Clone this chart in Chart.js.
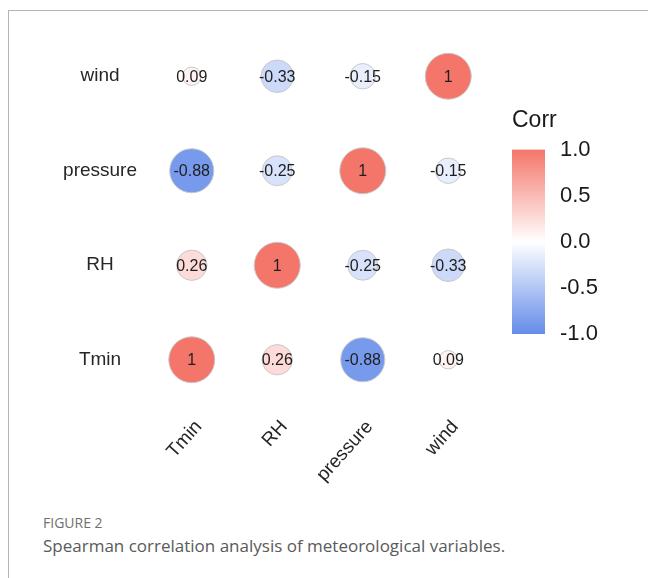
<!DOCTYPE html>
<html>
<head>
<meta charset="utf-8">
<script src="https://cdn.jsdelivr.net/npm/chart.js@4.4.1/dist/chart.umd.min.js"></script>
<style>
  html, body { margin: 0; padding: 0; background: #fff; }
  #page { position: relative; width: 648px; height: 578px; overflow: hidden; }
  #frame { position: absolute; left: 8px; top: 10px; width: 660px; height: 600px; border: 1px solid #b4b4b4; }
  #mainWrap { position: absolute; left: 0; top: 0; width: 500px; height: 500px; }
  #barWrap { position: absolute; left: 500px; top: 95px; width: 130px; height: 260px; }
  .cap1 { position: absolute; left: 43px; top: 513px; font: 14px "Open Sans", sans-serif; color: #707070; }
  .cap2 { position: absolute; left: 43px; top: 534px; font: 17px "Open Sans", sans-serif; color: #5a5a5a; }
</style>
</head>
<body>
<div id="page">
  <div id="frame"></div>
  <div id="mainWrap"><canvas id="corrChart"></canvas></div>
  <div id="barWrap"><canvas id="corrLegend"></canvas></div>
  <div class="cap1">FIGURE 2</div>
  <div class="cap2">Spearman correlation analysis of meteorological variables.</div>
</div>
<script>
  // Variablene (x venstre->høyre, y nedenfra og opp)
  const variables = ["Tmin", "RH", "pressure", "wind"];
  // Korrelasjon per rad, kolonner i samme rekkefølge som variables
  const tminRow = [1, 0.26, -0.88, 0.09];
  const rhRow = [0.26, 1, -0.25, -0.33];
  const pressureRow = [-0.88, -0.25, 1, -0.15];
  const windRow = [0.09, -0.33, -0.15, 1];
  const legendTicks = [-1, -0.5, 0, 0.5, 1];

  const FONT = '"Liberation Sans", Arial, sans-serif';
  const LOW = [100, 140, 234], MID = [255, 255, 255], HIGH = [244, 118, 106];
  const fill = (v) => {
    const t = Math.min(1, Math.abs(v)), c = v < 0 ? LOW : HIGH;
    return `rgb(${c.map((k, i) => Math.round(MID[i] + (k - MID[i]) * t)).join(",")})`;
  };

  const rows = [tminRow, rhRow, pressureRow, windRow];
  const abs = rows.flat().map(Math.abs);
  const aMin = Math.min(...abs), aMax = Math.max(...abs);
  // som ggplot scale_size(range = c(4, 10)) – arealskala
  const radius = (v) => 2.3 * (4 + 6 * Math.sqrt((Math.abs(v) - aMin) / (aMax - aMin)));
  const points = [];
  rows.forEach((row, yi) => row.forEach((v, xi) => points.push({ x: xi, y: yi, r: radius(v), v })));

  const cellLabels = {
    id: "cellLabels",
    afterDatasetsDraw(chart) {
      const { ctx } = chart;
      ctx.save();
      ctx.font = `16px ${FONT}`;
      ctx.fillStyle = "#1e1e1e";
      ctx.textAlign = "center";
      ctx.textBaseline = "middle";
      chart.getDatasetMeta(0).data.forEach((el, i) => ctx.fillText(String(points[i].v), el.x, el.y + 1));
      ctx.restore();
    },
  };

  const axisTicks = { autoSkip: false, font: { size: 19, family: FONT }, color: "#262626" };

  new Chart(document.getElementById("corrChart"), {
    type: "bubble",
    data: { datasets: [{ data: points, backgroundColor: points.map((p) => fill(p.v)), borderColor: "#c9c9c9", borderWidth: 1, clip: false }] },
    options: {
      responsive: true, maintainAspectRatio: false, animation: false, events: [],
      layout: { autoPadding: false, padding: { left: 20, right: 9, top: 29, bottom: 0 } },
      plugins: { legend: { display: false }, tooltip: { enabled: false } },
      scales: {
        x: {
          type: "linear", min: -0.5, max: 3.5,
          afterBuildTicks: (s) => { s.ticks = variables.map((_, i) => ({ value: i })); },
          afterFit: (s) => { s.height = 93; s.paddingLeft = 0; s.paddingRight = 0; },
          grid: { display: false, drawTicks: false }, border: { display: false },
          ticks: { ...axisTicks, callback: (v) => variables[v], minRotation: 48, maxRotation: 48, padding: 9, labelOffset: 7 },
        },
        y: {
          type: "linear", min: -0.5, max: 3.5,
          afterBuildTicks: (s) => { s.ticks = variables.map((_, i) => ({ value: i })); },
          afterFit: (s) => { s.width = 129; s.paddingTop = 0; s.paddingBottom = 0; },
          grid: { display: false, drawTicks: false }, border: { display: false },
          ticks: { ...axisTicks, callback: (v) => variables[v], crossAlign: "center", padding: 12 },
        },
      },
    },
    plugins: [cellLabels],
  });

  // Fargeskala (Corr)
  new Chart(document.getElementById("corrLegend"), {
    type: "bar",
    data: {
      labels: ["Corr"],
      datasets: [{
        data: [[-1, 1]], barPercentage: 1, categoryPercentage: 1, borderSkipped: false,
        backgroundColor: (c) => {
          const ch = c.chart;
          if (!ch.chartArea) return fill(0);
          const ys = ch.scales.y;
          const g = ch.ctx.createLinearGradient(0, ys.getPixelForValue(-1), 0, ys.getPixelForValue(1));
          g.addColorStop(0, fill(-1)); g.addColorStop(0.5, fill(0)); g.addColorStop(1, fill(1));
          return g;
        },
      }],
    },
    options: {
      responsive: true, maintainAspectRatio: false, animation: false, events: [],
      layout: { autoPadding: false, padding: { left: 12, right: 0, top: 0, bottom: 21 } },
      plugins: {
        legend: { display: false }, tooltip: { enabled: false },
        title: { display: true, text: "Corr", align: "start", color: "#1a1a1a", font: { size: 23, weight: "normal", family: FONT }, padding: { top: 12, bottom: 15 } },
      },
      scales: {
        x: { display: false },
        y: {
          position: "right", min: -1, max: 1,
          afterBuildTicks: (s) => { s.ticks = legendTicks.map((v) => ({ value: v })); },
          afterFit: (s) => { s.width = 85; s.paddingTop = 0; s.paddingBottom = 0; },
          grid: { display: false, drawTicks: false }, border: { display: false },
          ticks: { callback: (v) => v.toFixed(1), padding: 15, color: "#1a1a1a", font: { size: 22, family: FONT } },
        },
      },
    },
  });
</script>
</body>
</html>
